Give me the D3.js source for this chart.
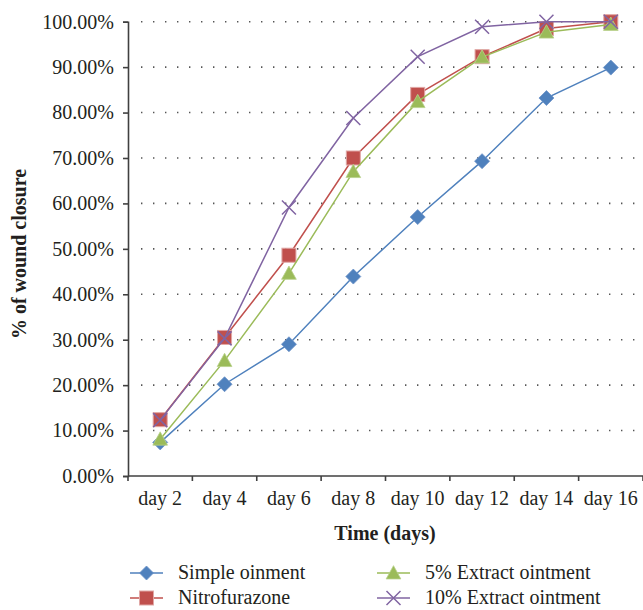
<!DOCTYPE html>
<html>
<head>
<meta charset="utf-8">
<script src="https://cdn.jsdelivr.net/npm/d3@7/dist/d3.min.js"></script>
<style>
  html, body { margin: 0; padding: 0; background: #fff; }
  svg { display: block; }
  text { font-family: "Liberation Serif", "DejaVu Serif", serif; fill: #231f20; }
</style>
</head>
<body>
<svg id="chart" width="643" height="610"></svg>
<script>
const categories = ["day 2", "day 4", "day 6", "day 8", "day 10", "day 12", "day 14", "day 16"];
const seriesNames = ["Simple oinment", "Nitrofurazone", "5% Extract ointment", "10% Extract ointment"];
const simpleOintment = [7.4, 20.2, 29.0, 43.9, 57.0, 69.3, 83.2, 89.9];
const nitrofurazone = [12.4, 30.5, 48.6, 70.0, 84.0, 92.3, 98.5, 100.0];
const extract5 = [8.1, 25.4, 44.6, 67.0, 82.4, 92.2, 97.7, 99.4];
const extract10 = [12.3, 30.3, 59.1, 78.8, 92.3, 98.9, 100.0, 100.0];
const yTicks = [0, 10, 20, 30, 40, 50, 60, 70, 80, 90, 100];
const colors = ["#4f81bd", "#c0504d", "#9bbb59", "#8064a2"];
const markers = ["diamond", "square", "triangle", "cross"];

const seriesValues = [simpleOintment, nitrofurazone, extract5, extract10];

const svg = d3.select("#chart");
const mLeft = 128, mRight = 643, mTop = 21.7, mBottom = 476;
const FS = 20;

const x = d3.scaleBand().domain(categories).range([mLeft, mRight]).padding(0);
const y = d3.scaleLinear().domain([0, 100]).range([mBottom, mTop]);
const cx = d => x(d) + x.bandwidth() / 2;

// gridlines
svg.append("g").selectAll("line")
  .data(yTicks.filter(d => d > 0))
  .join("line")
  .attr("x1", mLeft + 13).attr("x2", mRight)
  .attr("y1", d => y(d)).attr("y2", d => y(d))
  .attr("stroke", "#555")
  .attr("stroke-width", 1.6)
  .attr("stroke-dasharray", "1.4,10.6");

// y axis
const yAxis = svg.append("g")
  .attr("transform", `translate(${mLeft},0)`)
  .call(d3.axisLeft(y).tickValues(yTicks).tickFormat(d => d.toFixed(2) + "%").tickSize(5).tickPadding(9));
yAxis.select(".domain").attr("stroke", "#404040").attr("stroke-width", 1.6);
yAxis.selectAll(".tick line").attr("stroke", "#404040").attr("stroke-width", 1.6);
yAxis.selectAll(".tick text")
  .attr("font-family", "'Liberation Serif', serif")
  .attr("font-size", FS).attr("fill", "#231f20");

// x axis
const xg = svg.append("g");
xg.append("line").attr("x1", mLeft).attr("x2", mRight).attr("y1", mBottom).attr("y2", mBottom)
  .attr("stroke", "#404040").attr("stroke-width", 1.6);
const edges = categories.map(c => x(c)).concat([x(categories[categories.length - 1]) + x.bandwidth()]);
xg.selectAll("line.tk").data(edges).join("line").attr("class", "tk")
  .attr("x1", d => d).attr("x2", d => d).attr("y1", mBottom).attr("y2", mBottom + 5)
  .attr("stroke", "#404040").attr("stroke-width", 1.6);
xg.selectAll("text").data(categories).join("text")
  .attr("x", d => cx(d)).attr("y", 505)
  .attr("text-anchor", "middle").attr("font-size", FS)
  .text(d => d);

// axis titles
svg.append("text").attr("x", 385).attr("y", 540).attr("text-anchor", "middle")
  .attr("font-size", FS).attr("font-weight", "bold").text("Time (days)");
svg.append("text").attr("transform", "translate(26,254) rotate(-90)").attr("text-anchor", "middle")
  .attr("font-size", FS).attr("font-weight", "bold").text("% of wound closure");

// marker drawing
function drawMarker(g, type, color, px, py, s) {
  if (type === "diamond") {
    g.append("path").attr("d", `M${px},${py - s}L${px + s},${py}L${px},${py + s}L${px - s},${py}Z`)
      .attr("fill", color).attr("stroke", "#6d93c8").attr("stroke-width", 0.8);
  } else if (type === "square") {
    g.append("rect").attr("x", px - s).attr("y", py - s).attr("width", 2 * s).attr("height", 2 * s)
      .attr("fill", color).attr("stroke", "#e0a7a5").attr("stroke-width", 1);
  } else if (type === "triangle") {
    g.append("path").attr("d", `M${px},${py - s * 1.05}L${px + s * 1.05},${py + s * 0.85}L${px - s * 1.05},${py + s * 0.85}Z`)
      .attr("fill", color).attr("stroke", "#b8d08a").attr("stroke-width", 0.8);
  } else {
    g.append("path").attr("d", `M${px - s},${py - s}L${px + s},${py + s}M${px - s},${py + s}L${px + s},${py - s}`)
      .attr("stroke", color).attr("stroke-width", 1.5).attr("fill", "none");
  }
}

const line = d3.line().x((d, i) => cx(categories[i])).y(d => y(d));
seriesValues.forEach((vals, si) => {
  const g = svg.append("g");
  g.append("path").datum(vals).attr("d", line)
    .attr("fill", "none").attr("stroke", colors[si]).attr("stroke-width", 1.5);
  const sz = markers[si] === "diamond" ? 7.5 : 7;
  vals.forEach((v, i) => drawMarker(g, markers[si], colors[si], cx(categories[i]), y(v), sz));
});

// legend
const legendPos = [[130, 573], [130, 598], [377, 573], [377, 598]];
seriesNames.forEach((name, si) => {
  const [lx, ly] = legendPos[si];
  const g = svg.append("g");
  g.append("line").attr("x1", lx).attr("x2", lx + 33).attr("y1", ly).attr("y2", ly)
    .attr("stroke", colors[si]).attr("stroke-width", 1.5);
  drawMarker(g, markers[si], colors[si], lx + 16.5, ly, 7);
  g.append("text").attr("x", lx + 48).attr("y", ly + 6).attr("font-size", FS).text(name);
});
</script>
</body>
</html>
